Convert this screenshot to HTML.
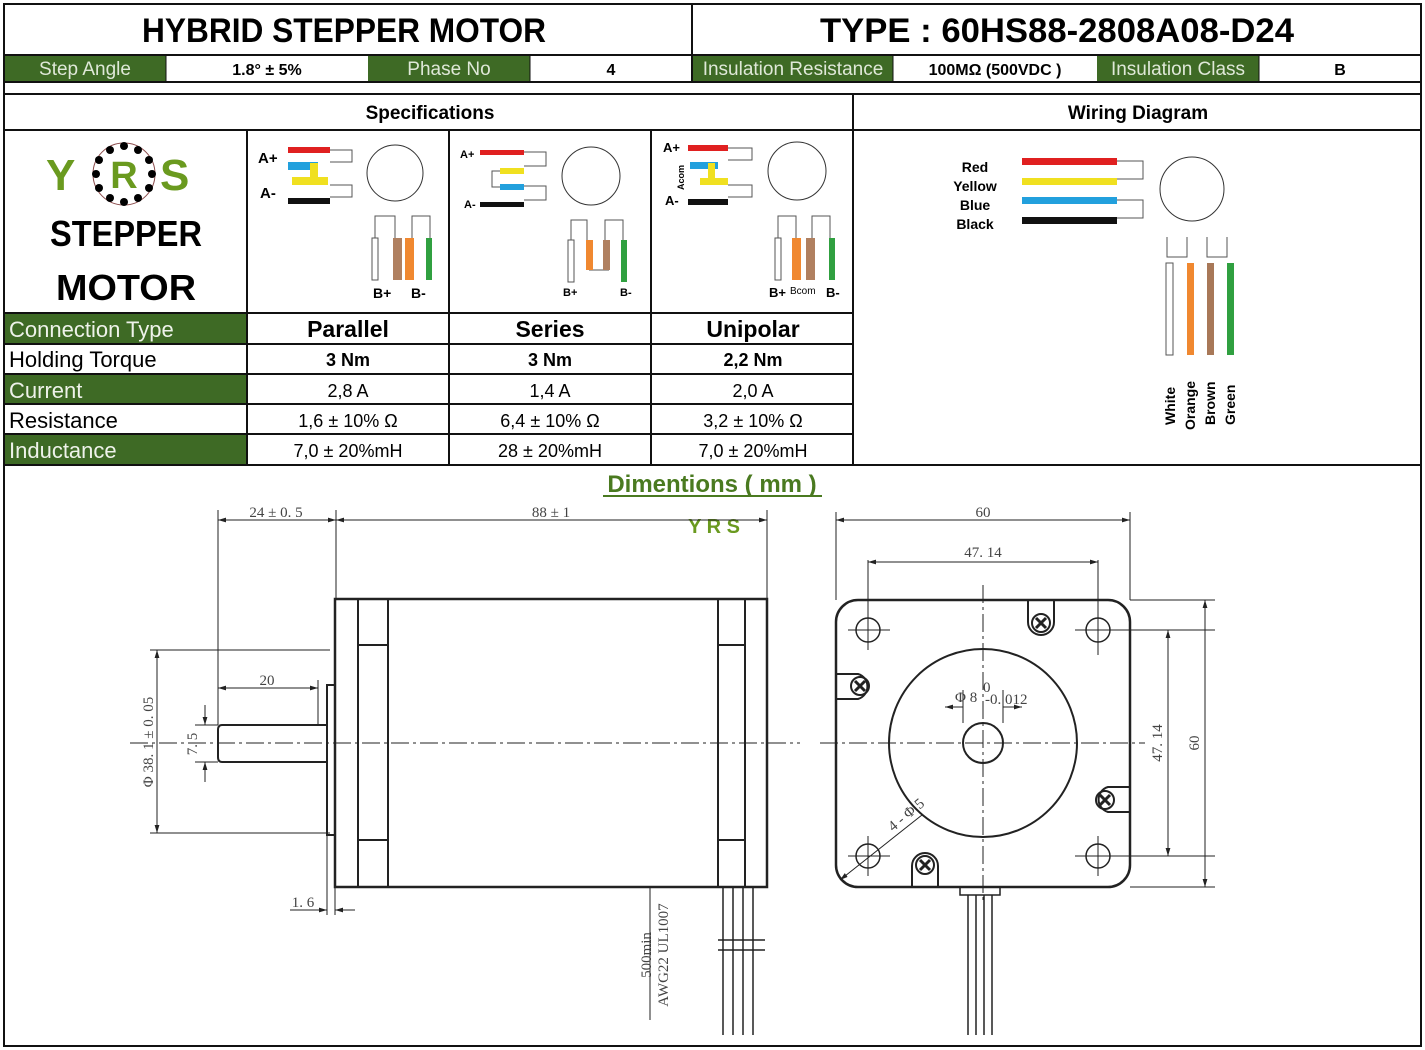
<!DOCTYPE html>
<html><head><meta charset="utf-8"><style>
html,body{margin:0;padding:0;background:#fff;}
svg{display:block;font-family:"Liberation Sans",sans-serif;}
.b{font-weight:bold;}
.dim{font-family:"Liberation Serif",serif;font-size:15px;fill:#444;}
</style></head><body>
<svg width="1425" height="1050" viewBox="0 0 1425 1050" xmlns="http://www.w3.org/2000/svg">
<defs>
<marker id="a" viewBox="0 0 10 10" refX="10" refY="5" markerWidth="8" markerHeight="8" orient="auto-start-reverse"><path d="M0 2 L10 5 L0 8 z" fill="#222"/></marker>
</defs>
<rect x="0" y="0" width="1425" height="1050" fill="#fff"/>
<g stroke="#111" stroke-width="2" fill="none">
<rect x="4" y="4" width="1417" height="1042"/>
<line x1="692" y1="4" x2="692" y2="82"/>
<line x1="4" y1="55" x2="1421" y2="55"/>
<line x1="4" y1="82" x2="1421" y2="82"/>
<line x1="4" y1="94" x2="1421" y2="94"/>
<line x1="4" y1="130" x2="1421" y2="130"/>
<line x1="853" y1="94" x2="853" y2="465"/>
<line x1="4" y1="465" x2="1421" y2="465"/>
<line x1="247" y1="130" x2="247" y2="465"/>
<line x1="449" y1="130" x2="449" y2="465"/>
<line x1="651" y1="130" x2="651" y2="465"/>
<line x1="4" y1="313" x2="853" y2="313"/>
<line x1="4" y1="344" x2="853" y2="344"/>
<line x1="4" y1="374" x2="853" y2="374"/>
<line x1="4" y1="404" x2="853" y2="404"/>
<line x1="4" y1="434" x2="853" y2="434"/>
</g>
<g fill="#3e6a25">
<rect x="5" y="56" width="161" height="25"/>
<rect x="368" y="56" width="162" height="25"/>
<rect x="693" y="56" width="200" height="25"/>
<rect x="1097" y="56" width="162" height="25"/>
<rect x="5" y="314" width="241" height="29"/>
<rect x="5" y="375" width="241" height="28"/>
<rect x="5" y="435" width="241" height="29"/>
</g>
<g stroke="#111" stroke-width="1"><line x1="166" y1="55" x2="166" y2="82"/><line x1="530" y1="55" x2="530" y2="82"/><line x1="893" y1="55" x2="893" y2="82"/><line x1="1259" y1="55" x2="1259" y2="82"/></g>
<text x="142" y="42" font-size="34" class="b" textLength="404" lengthAdjust="spacingAndGlyphs">HYBRID STEPPER MOTOR</text>
<text x="820" y="42" font-size="34" class="b" textLength="474" lengthAdjust="spacingAndGlyphs">TYPE : 60HS88-2808A08-D24</text>
<g font-size="19" fill="#dfe8d8" text-anchor="middle">
<text x="85" y="75">Step Angle</text><text x="449" y="75">Phase No</text>
<text x="793" y="75">Insulation Resistance</text><text x="1178" y="75">Insulation Class</text></g>
<g font-size="16" class="b" text-anchor="middle">
<text x="267" y="75">1.8° ± 5%</text><text x="611" y="75">4</text>
<text x="995" y="75">100MΩ  (500VDC )</text><text x="1340" y="75">B</text>
<text x="430" y="119" font-size="19">Specifications</text><text x="1138" y="119" font-size="19">Wiring Diagram</text></g>
<!-- logo -->
<text x="46" y="190" font-size="44" class="b" fill="#6a9a1f">Y</text>
<circle cx="124" cy="174" r="31" fill="none" stroke="#8a4a4a" stroke-width="1"/>
<g fill="#000"><circle cx="124" cy="146" r="4"/><circle cx="138" cy="150" r="4"/><circle cx="149" cy="160" r="4"/><circle cx="152" cy="174" r="4"/><circle cx="149" cy="188" r="4"/><circle cx="138" cy="198" r="4"/><circle cx="124" cy="202" r="4"/><circle cx="110" cy="198" r="4"/><circle cx="99" cy="188" r="4"/><circle cx="96" cy="174" r="4"/><circle cx="99" cy="160" r="4"/><circle cx="110" cy="150" r="4"/></g>
<text x="124" y="188" font-size="38" class="b" fill="#6a9a1f" text-anchor="middle">R</text>
<text x="160" y="190" font-size="44" class="b" fill="#6a9a1f">S</text>
<text x="50" y="246" font-size="36" class="b" textLength="152" lengthAdjust="spacingAndGlyphs">STEPPER</text>
<text x="56" y="300" font-size="36" class="b" textLength="140" lengthAdjust="spacingAndGlyphs">MOTOR</text>
<!-- connection diagrams -->
<g>
<text x="258" y="163" font-size="15" class="b">A+</text><text x="260" y="198" font-size="15" class="b">A-</text>
<rect x="288" y="147" width="42" height="6" fill="#e02020"/>
<rect x="288" y="198" width="42" height="6" fill="#111"/>
<rect x="288" y="162" width="30" height="8" fill="#22a0dd"/><rect x="292" y="177" width="36" height="8" fill="#f0e020"/>
<rect x="310" y="163" width="8" height="22" fill="#f0e020"/>
<path d="M330 150 h22 v12 h-22 M330 185 h22 v12 h-22" fill="none" stroke="#555"/>
<circle cx="395" cy="173" r="28" fill="none" stroke="#333"/>
<path d="M375 238 v-22 h20 v22 M412 238 v-22 h18 v22" fill="none" stroke="#555"/>
<rect x="372" y="238" width="6" height="42" fill="none" stroke="#555"/>
<rect x="393" y="238" width="9" height="42" fill="#b08060"/><rect x="405" y="238" width="9" height="42" fill="#f08830"/>
<rect x="426" y="238" width="6" height="42" fill="#30a040"/>
<text x="373" y="298" font-size="14" class="b">B+</text><text x="411" y="298" font-size="14" class="b">B-</text>
</g>
<g>
<text x="460" y="158" font-size="11" class="b">A+</text><text x="464" y="208" font-size="11" class="b">A-</text>
<rect x="480" y="150" width="44" height="5" fill="#e02020"/><rect x="480" y="202" width="44" height="5" fill="#111"/>
<rect x="500" y="168" width="24" height="6" fill="#f0e020"/><rect x="500" y="184" width="24" height="6" fill="#22a0dd"/>
<path d="M524 152 h22 v14 h-22 M524 186 h22 v14 h-22 M500 171 h-8 v16 h8" fill="none" stroke="#555"/>
<circle cx="591" cy="176" r="29" fill="none" stroke="#333"/>
<path d="M571 240 v-20 h16 v20 M605 240 v-20 h18 v20 M589 270 h20" fill="none" stroke="#555"/>
<rect x="568" y="240" width="6" height="42" fill="none" stroke="#555"/>
<rect x="586" y="240" width="7" height="30" fill="#f08830"/><rect x="603" y="240" width="7" height="30" fill="#b08060"/>
<rect x="621" y="240" width="6" height="42" fill="#30a040"/>
<text x="563" y="296" font-size="11" class="b">B+</text><text x="620" y="296" font-size="11" class="b">B-</text>
</g>
<g>
<text x="663" y="152" font-size="13" class="b">A+</text><text x="665" y="205" font-size="13" class="b">A-</text>
<text transform="translate(684,190) rotate(-90)" font-size="9" class="b">Acom</text>
<rect x="688" y="145" width="40" height="6" fill="#e02020"/><rect x="688" y="199" width="40" height="6" fill="#111"/>
<rect x="690" y="162" width="28" height="7" fill="#22a0dd"/><rect x="700" y="178" width="28" height="7" fill="#f0e020"/>
<rect x="708" y="163" width="7" height="22" fill="#f0e020"/>
<path d="M728 148 h24 v12 h-24 M728 185 h24 v12 h-24" fill="none" stroke="#555"/>
<circle cx="797" cy="171" r="29" fill="none" stroke="#333"/>
<path d="M778 238 v-22 h18 v22 M812 238 v-22 h18 v22" fill="none" stroke="#555"/>
<rect x="775" y="238" width="6" height="42" fill="none" stroke="#555"/>
<rect x="792" y="238" width="9" height="42" fill="#f08830"/><rect x="806" y="238" width="9" height="42" fill="#b08060"/>
<rect x="829" y="238" width="6" height="42" fill="#30a040"/>
<text x="769" y="297" font-size="13" class="b">B+</text><text x="790" y="294" font-size="10">Bcom</text><text x="826" y="297" font-size="13" class="b">B-</text>
</g>
<g font-size="22" fill="#eef2ea"><text x="9" y="337">Connection Type</text><text x="9" y="398">Current</text><text x="9" y="458">Inductance</text></g>
<g font-size="22"><text x="9" y="367">Holding Torque</text><text x="9" y="428">Resistance</text></g>
<g text-anchor="middle">
<g font-size="23" class="b"><text x="348" y="337">Parallel</text><text x="550" y="337">Series</text><text x="753" y="337">Unipolar</text></g>
<g font-size="18" class="b"><text x="348" y="366">3 Nm</text><text x="550" y="366">3 Nm</text><text x="753" y="366">2,2 Nm</text></g>
<g font-size="18"><text x="348" y="397">2,8 A</text><text x="550" y="397">1,4 A</text><text x="753" y="397">2,0 A</text>
<text x="348" y="427">1,6 ± 10% Ω</text><text x="550" y="427">6,4 ± 10% Ω</text><text x="753" y="427">3,2 ± 10% Ω</text>
<text x="348" y="457">7,0  ±  20%mH</text><text x="550" y="457">28  ±  20%mH</text><text x="753" y="457">7,0  ±  20%mH</text></g>
</g>
<!-- wiring diagram -->
<g font-size="14" class="b" text-anchor="middle"><text x="975" y="172">Red</text><text x="975" y="191">Yellow</text><text x="975" y="210">Blue</text><text x="975" y="229">Black</text></g>
<rect x="1022" y="158" width="95" height="7" fill="#e02020"/>
<rect x="1022" y="178" width="95" height="7" fill="#f0e020"/>
<rect x="1022" y="197" width="95" height="7" fill="#22a0dd"/>
<rect x="1022" y="217" width="95" height="7" fill="#111"/>
<g fill="none" stroke="#555"><path d="M1117 161 h26 v18 h-26 M1117 200 h26 v18 h-26"/><path d="M1167 237 v20 h20 v-20 M1207 237 v20 h20 v-20"/></g>
<circle cx="1192" cy="189" r="32" fill="none" stroke="#333"/>
<rect x="1166" y="263" width="7" height="92" fill="#fff" stroke="#555"/>
<rect x="1187" y="263" width="7" height="92" fill="#f08830"/>
<rect x="1207" y="263" width="7" height="92" fill="#a87858"/>
<rect x="1227" y="263" width="7" height="92" fill="#30a040"/>
<g font-size="14" class="b"><text transform="translate(1175,425) rotate(-90)">White</text><text transform="translate(1195,430) rotate(-90)">Orange</text><text transform="translate(1215,425) rotate(-90)">Brown</text><text transform="translate(1235,425) rotate(-90)">Green</text></g>
<text x="712" y="492" font-size="24" class="b" fill="#4a7a20" text-anchor="middle">Dimentions ( mm )</text>
<line x1="603" y1="496" x2="822" y2="496" stroke="#4a7a20" stroke-width="2"/>
<text x="714" y="533" font-size="20" class="b" fill="#6a9a1f" text-anchor="middle">Y R S</text>
<!-- side view -->
<g stroke="#222" fill="none">
<rect x="335" y="599" width="432" height="288" stroke-width="2.5"/>
<line x1="358" y1="599" x2="358" y2="887" stroke-width="2"/><line x1="388" y1="599" x2="388" y2="887" stroke-width="2"/>
<line x1="718" y1="599" x2="718" y2="887" stroke-width="2"/><line x1="745" y1="599" x2="745" y2="887" stroke-width="2"/>
<line x1="358" y1="645" x2="388" y2="645" stroke-width="2"/><line x1="358" y1="840" x2="388" y2="840" stroke-width="2"/>
<line x1="718" y1="645" x2="745" y2="645" stroke-width="2"/><line x1="718" y1="840" x2="745" y2="840" stroke-width="2"/>
<rect x="327" y="685" width="8" height="150" stroke-width="2"/>
<path d="M327 725 H222 Q218 725 218 730 V757 Q218 762 222 762 H327" stroke-width="2"/>
<line x1="130" y1="743" x2="800" y2="743" stroke-dasharray="18 4 3 4" stroke-width="1"/>
<g stroke-width="1">
<line x1="218" y1="510" x2="218" y2="725"/><line x1="336" y1="510" x2="336" y2="599"/><line x1="767" y1="510" x2="767" y2="599"/>
<line x1="218" y1="520" x2="336" y2="520" marker-start="url(#a)" marker-end="url(#a)"/>
<line x1="336" y1="520" x2="767" y2="520" marker-start="url(#a)" marker-end="url(#a)"/>
<line x1="218" y1="688" x2="318" y2="688" marker-start="url(#a)" marker-end="url(#a)"/><line x1="318" y1="680" x2="318" y2="725"/>
<line x1="150" y1="650" x2="330" y2="650"/><line x1="150" y1="833" x2="330" y2="833"/>
<line x1="157" y1="650" x2="157" y2="833" marker-start="url(#a)" marker-end="url(#a)"/>
<line x1="195" y1="725" x2="218" y2="725"/><line x1="195" y1="762" x2="218" y2="762"/>
<line x1="205" y1="705" x2="205" y2="725" marker-end="url(#a)"/><line x1="205" y1="782" x2="205" y2="762" marker-end="url(#a)"/>
<line x1="327" y1="835" x2="327" y2="915"/><line x1="335" y1="887" x2="335" y2="915"/>
<line x1="290" y1="910" x2="327" y2="910" marker-end="url(#a)"/><line x1="355" y1="910" x2="335" y2="910" marker-end="url(#a)"/>
<line x1="650" y1="887" x2="650" y2="1020"/>
</g>
<g stroke-width="1.5"><line x1="723" y1="887" x2="723" y2="1035"/><line x1="733" y1="887" x2="733" y2="1035"/><line x1="743" y1="887" x2="743" y2="1035"/><line x1="753" y1="887" x2="753" y2="1035"/>
<line x1="718" y1="940" x2="765" y2="940"/><line x1="718" y1="950" x2="765" y2="950"/></g>
</g>
<text class="dim" x="276" y="517" text-anchor="middle">24 ± 0. 5</text>
<text class="dim" x="551" y="517" text-anchor="middle">88 ± 1</text>
<text class="dim" x="267" y="685" text-anchor="middle">20</text>
<text class="dim" x="303" y="907" text-anchor="middle">1. 6</text>
<text class="dim" transform="translate(153,742) rotate(-90)" text-anchor="middle">Φ 38. 1 ± 0. 05</text>
<text class="dim" transform="translate(197,744) rotate(-90)" text-anchor="middle">7. 5</text>
<text class="dim" transform="translate(651,955) rotate(-90)" text-anchor="middle">500min</text>
<text class="dim" transform="translate(668,955) rotate(-90)" text-anchor="middle">AWG22  UL1007</text>
<!-- front view -->
<g stroke="#222" fill="none">
<rect x="836" y="600" width="294" height="287" rx="22" stroke-width="2.5"/>
<circle cx="983" cy="743" r="94" stroke-width="2"/>
<circle cx="983" cy="743" r="20" stroke-width="2"/>
<circle cx="868" cy="630" r="12" stroke-width="1.5"/><circle cx="1098" cy="630" r="12" stroke-width="1.5"/>
<circle cx="868" cy="856" r="12" stroke-width="1.5"/><circle cx="1098" cy="856" r="12" stroke-width="1.5"/>
<g stroke-width="1">
<line x1="820" y1="743" x2="1145" y2="743" stroke-dasharray="18 4 3 4"/>
<line x1="983" y1="585" x2="983" y2="900" stroke-dasharray="18 4 3 4"/>
<line x1="848" y1="630" x2="890" y2="630"/><line x1="868" y1="610" x2="868" y2="650"/>
<line x1="1075" y1="630" x2="1215" y2="630"/><line x1="1098" y1="560" x2="1098" y2="655"/>
<line x1="848" y1="856" x2="890" y2="856"/><line x1="868" y1="836" x2="868" y2="876"/>
<line x1="1075" y1="856" x2="1215" y2="856"/><line x1="1098" y1="836" x2="1098" y2="876"/>
<line x1="868" y1="560" x2="868" y2="618"/>
<line x1="868" y1="562" x2="1098" y2="562" marker-start="url(#a)" marker-end="url(#a)"/>
<line x1="836" y1="512" x2="836" y2="600"/><line x1="1130" y1="512" x2="1130" y2="600"/>
<line x1="836" y1="520" x2="1130" y2="520" marker-start="url(#a)" marker-end="url(#a)"/>
<line x1="1168" y1="630" x2="1168" y2="856" marker-start="url(#a)" marker-end="url(#a)"/>
<line x1="1130" y1="600" x2="1215" y2="600"/><line x1="1130" y1="887" x2="1215" y2="887"/>
<line x1="1205" y1="600" x2="1205" y2="887" marker-start="url(#a)" marker-end="url(#a)"/>
<line x1="945" y1="707" x2="963" y2="707" marker-start="url(#a)"/><line x1="1003" y1="707" x2="1022" y2="707" marker-end="url(#a)"/>
<line x1="963" y1="690" x2="963" y2="723"/><line x1="1003" y1="690" x2="1003" y2="723"/>
<line x1="840" y1="880" x2="922" y2="815" marker-start="url(#a)"/>
</g>
<path d="M1028 600 V622 A13 13 0 0 0 1054 622 V600" stroke-width="2"/>
<path d="M836 674 H858 A13 13 0 0 1 858 699 H836" stroke-width="2"/>
<path d="M1130 787 H1108 A13 13 0 0 0 1108 812 H1130" stroke-width="2"/>
<path d="M912 887 V866 A13 13 0 0 1 938 866 V887" stroke-width="2"/>
<g stroke-width="2"><circle cx="1041" cy="623" r="9"/><circle cx="860" cy="686" r="9"/><circle cx="1105" cy="800" r="9"/><circle cx="925" cy="865" r="9"/></g>
<g stroke-width="3"><path d="M1036 618 l10 10 m0 -10 l-10 10"/><path d="M855 681 l10 10 m0 -10 l-10 10"/><path d="M1100 795 l10 10 m0 -10 l-10 10"/><path d="M920 860 l10 10 m0 -10 l-10 10"/></g>
<rect x="960" y="887" width="40" height="8" stroke-width="1.5"/>
<g stroke-width="1.5"><line x1="968" y1="895" x2="968" y2="1035"/><line x1="976" y1="895" x2="976" y2="1035"/><line x1="984" y1="895" x2="984" y2="1035"/><line x1="992" y1="895" x2="992" y2="1035"/></g>
</g>
<text class="dim" x="983" y="517" text-anchor="middle">60</text>
<text class="dim" x="983" y="557" text-anchor="middle">47. 14</text>
<text class="dim" x="955" y="702" font-size="16">Φ 8</text><text class="dim" x="985" y="704" font-size="10">-0. 012</text><text class="dim" x="983" y="692" font-size="10">0</text>
<text class="dim" transform="translate(1162,743) rotate(-90)" text-anchor="middle">47. 14</text>
<text class="dim" transform="translate(1199,743) rotate(-90)" text-anchor="middle">60</text>
<text class="dim" transform="translate(893,832) rotate(-40)">4 - Φ 5</text>
</svg>
</body></html>
